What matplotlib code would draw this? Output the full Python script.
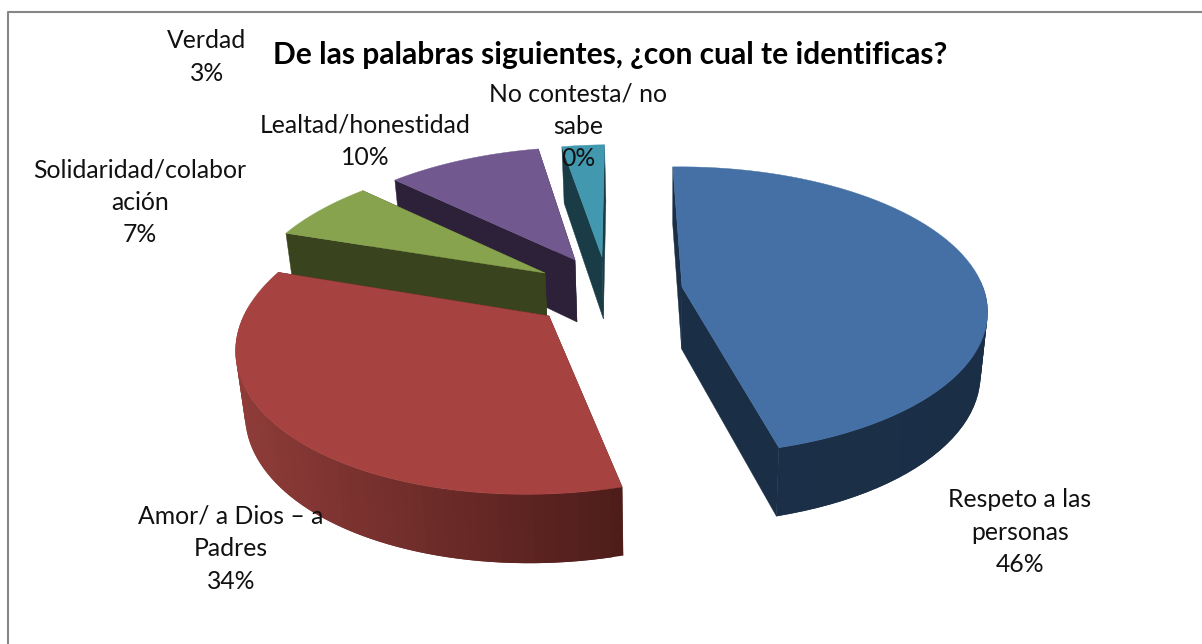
import numpy as np
import matplotlib
matplotlib.use("Agg")
import matplotlib.pyplot as plt
from matplotlib.colors import to_rgb
from matplotlib.patches import Polygon

categories = ["Respeto a las\npersonas", "Amor/ a Dios – a\nPadres", "Solidaridad/colabor\nación",
              "Lealtad/honestidad", "Verdad", "No contesta/ no\nsabe"]
values = [46.2, 34.2, 6.8, 10.0, 2.8, 0.0]
percent_labels = ["46%", "34%", "7%", "10%", "3%", "0%"]
title = "De las palabras siguientes, ¿con cual te identificas?"

top_colors = ["#4470A5", "#A64340", "#87A34D", "#71588F", "#4198AF", "#DB843D"]
side_colors = ["#1A2E46", "#4E1D1A", "#39431D", "#2C2138", "#1A3C46", "#5A3010"]
wall_left_colors = ["#1C3049", "#8F3C39", "#39431D", "#2C2138", "#1A3C46", "#5A3010"]

apex_x = [682, 549, 545, 575, 602, 603]
apex_y = [287, 316, 273, 260, 257, 257]
label_x = [1020, 231, 140, 365, 207, 578]
label_y = [532, 549, 202, 141, 57, 126]
start_angle = -1.5
cam_x, R, Ry, p, depth = 665.0, 301.0, 140.0, 0.165, 62.0
base_scale = 0.978
ref_y, kx_back, kx_front, ky = 287.0, 0.002, 0.0005, 0.0022


def project(ax_, ay_, ang, bottom=False, r=1.0):
    t = np.radians(ang)
    u, v = r * np.sin(t), -r * np.cos(t)
    den = 1 - p * v
    dy_ = ay_ - ref_y
    sxk = 1 + dy_ * (kx_back if dy_ < 0 else kx_front)
    syk = 1 + dy_ * ky
    sx = (ax_ - cam_x + R * sxk * u) / den
    y = ay_ + Ry * syk * v / den
    if bottom:
        sx = sx * base_scale
        y = y + depth / (1 - 0.1 * v)
    return cam_x + sx, y


fig = plt.figure(figsize=(12.02, 6.44), dpi=100, facecolor="white")
ax = fig.add_axes([0, 0, 1, 1])
ax.set_xlim(0, 1202)
ax.set_ylim(644, 0)
ax.axis("off")

# frame: only the top and left edges fall inside the crop
ax.plot([7.5, 7.5, 1202], [644, 11.5, 11.5], color="#868686", lw=1.5, zorder=0)

edges = start_angle + np.cumsum([0] + values) * 3.6
order = [4, 3, 2, 1, 0]
z = 1
for i in order:
    a0, a1 = edges[i], edges[i + 1]
    if a1 - a0 <= 0:
        continue
    ax_, ay_ = apex_x[i], apex_y[i]
    angs = np.linspace(a0, a1, 70)
    tx, ty = project(ax_, ay_, angs)
    bx, by = project(ax_, ay_, angs, bottom=True)
    cx, cy = project(ax_, ay_, 0.0, r=0)
    ccx, ccy = project(ax_, ay_, 0.0, bottom=True, r=0)
    for k in (0, -1):
        ax.add_patch(Polygon([(cx, cy), (tx[k], ty[k]), (bx[k], by[k]), (ccx, ccy)],
                             closed=True, fc=side_colors[i], ec=side_colors[i], lw=0.3, zorder=z))
    z += 1
    c_l, c_r = np.array(to_rgb(wall_left_colors[i])), np.array(to_rgb(side_colors[i]))
    xmin, xmax = tx.min(), tx.max()
    # strips overlap the next one so that no seams show
    for j in range(len(angs) - 1):
        if np.cos(np.radians(angs[j])) > 0.05:
            continue
        j2 = min(j + 2, len(angs) - 1)
        f = (tx[j] - xmin) / max(xmax - xmin, 1)
        col = c_l + (c_r - c_l) * f
        ax.add_patch(Polygon([(tx[j], ty[j]), (tx[j2], ty[j2]), (bx[j2], by[j2]), (bx[j], by[j])],
                             closed=True, fc=col, ec="none", zorder=z))
    z += 1
    ax.add_patch(Polygon(np.r_[[(cx, cy)], np.c_[tx, ty]], closed=True,
                         fc=top_colors[i], ec=top_colors[i], lw=0.3, zorder=z))
    z += 1

font = "Lato"
for name, pct, x, y in zip(categories, percent_labels, label_x, label_y):
    ax.text(x, y, name + "\n" + pct, ha="center", va="center", fontsize=17.8, family=font,
            color="#111111", linespacing=1.5, zorder=50)
ax.text(610.5, 55, title, ha="center", va="center", fontsize=21.6, family=font,
        fontweight="bold", color="black", zorder=50)

fig.savefig("out.png", dpi=100)
